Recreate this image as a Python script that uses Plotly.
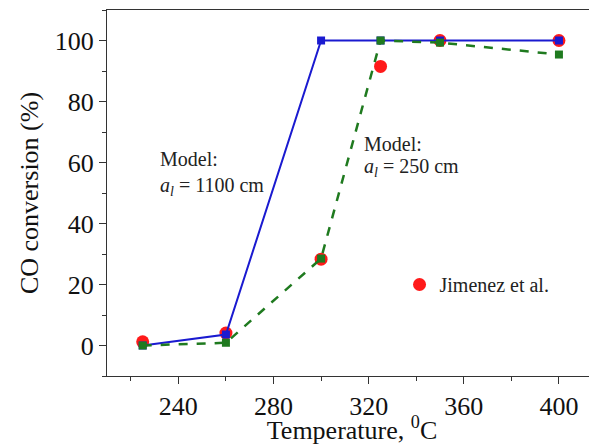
import plotly.graph_objects as go

temps = [225, 260, 300, 325, 350, 400]
jimenez = [1.2, 4.1, 28.3, 91.5, 100, 100]
model_1100 = [0, 3.6, 100, 100, 100, 100]
model_250 = [0, 0.9, 28.5, 100, 99.3, 95.4]

FONT = "Liberation Serif, Times New Roman, serif"
TXT = dict(family=FONT, size=20, color="#222")

fig = go.Figure()
fig.add_trace(go.Scatter(x=temps, y=jimenez, mode="markers", name="Jimenez et al.",
                         marker=dict(symbol="circle", size=13, color="#ff1a1a"),
                         showlegend=True))
fig.add_trace(go.Scatter(x=temps, y=model_1100, mode="lines+markers", name="Model a=1100",
                         line=dict(color="#1a1ad0", width=2),
                         marker=dict(symbol="square", size=8, color="#1a1ad0"),
                         showlegend=False))
fig.add_trace(go.Scatter(x=temps, y=model_250, mode="lines+markers", name="Model a=250",
                         line=dict(color="#1f7a1f", width=2.5, dash="dash"),
                         marker=dict(symbol="square", size=8, color="#1f7a1f"),
                         showlegend=False))

fig.add_annotation(x=231.5, y=61, xref="x", yref="y", xanchor="left", yanchor="middle",
                   text="Model:", showarrow=False, font=TXT)
fig.add_annotation(x=231.5, y=52.2, xref="x", yref="y", xanchor="left", yanchor="middle",
                   text="<i>a</i><sub><i>l</i></sub> = 1100 cm", showarrow=False, font=TXT)
fig.add_annotation(x=317.2, y=66.2, xref="x", yref="y", xanchor="left", yanchor="middle",
                   text="Model:", showarrow=False, font=TXT)
fig.add_annotation(x=317.2, y=58.4, xref="x", yref="y", xanchor="left", yanchor="middle",
                   text="<i>a</i><sub><i>l</i></sub> = 250 cm", showarrow=False, font=TXT)

fig.update_layout(
    width=589, height=437,
    margin=dict(l=99, r=0, t=2, b=69),
    paper_bgcolor="white", plot_bgcolor="white",
    font=dict(family=FONT, color="#111"),
    legend=dict(x=0.597, y=0.25, xanchor="left", yanchor="middle",
                font=TXT, bgcolor="rgba(0,0,0,0)"),
    xaxis=dict(range=[210, 416], tickvals=[240, 280, 320, 360, 400],
               showgrid=False, zeroline=False, showline=True, linecolor="#333",
               linewidth=1.2, mirror=True, ticks="outside", ticklen=7, tickcolor="#333",
               tickfont=dict(family=FONT, size=26, color="#111"),
               minor=dict(tickvals=[220, 260, 300, 340, 380], ticks="outside", ticklen=4,
                          tickcolor="#333"),
               title=dict(text="Temperature, <sup>0</sup>C", standoff=6,
                          font=dict(family=FONT, size=26, color="#111"))),
    yaxis=dict(range=[-10, 110], tickvals=[0, 20, 40, 60, 80, 100],
               showgrid=False, zeroline=False, showline=True, linecolor="#333",
               linewidth=1.2, ticks="outside", ticklen=7, tickcolor="#333",
               tickfont=dict(family=FONT, size=26, color="#111"),
               minor=dict(tickvals=[-10, 10, 30, 50, 70, 90, 110], ticks="outside", ticklen=4,
                          tickcolor="#333"),
               title=dict(text="CO conversion (%)", standoff=8,
                          font=dict(family=FONT, size=26, color="#111"))),
)

fig.write_html("out.html")
